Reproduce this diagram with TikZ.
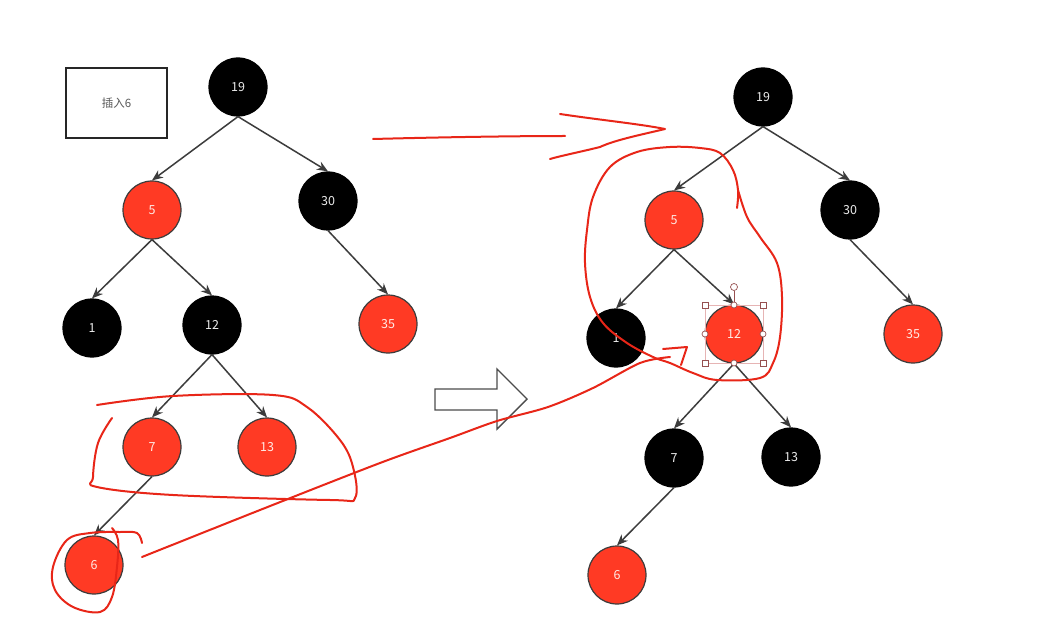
\documentclass[tikz,border=0pt]{standalone}
\usepackage{fontspec}
\setmainfont{Noto Sans CJK SC}
\usetikzlibrary{arrows.meta}
\definecolor{rbred}{RGB}{255,58,36}
\definecolor{edgegray}{RGB}{60,60,60}
\definecolor{penred}{RGB}{232,38,24}
\definecolor{handle}{RGB}{150,80,80}
\definecolor{labelgray}{RGB}{90,90,90}
\tikzset{
  rbnode/.style={circle, minimum size=58pt, inner sep=0pt, draw=edgegray, line width=1.2pt, text=white, font=\fontsize{12.5}{12.5}\selectfont},
  rnode/.style={rbnode, fill=rbred, text={rgb,255:red,255;green,235;blue,230}},
  bnode/.style={rbnode, fill=black, draw=black, text={rgb,255:red,235;green,235;blue,235}},
  edge/.style={draw=edgegray, line width=1.5pt, -{Stealth[length=11pt,width=9pt]}},
  pen/.style={draw=penred, line width=2pt, line cap=round, line join=round},
  hsq/.style={draw=handle, fill=white, line width=0.7pt, minimum size=6pt, inner sep=0pt, rectangle},
  hci/.style={draw=handle, fill=white, line width=0.7pt, minimum size=7pt, inner sep=0pt, circle},
}
\begin{document}
\begin{tikzpicture}[x=1pt,y=-1pt]
\useasboundingbox (0,0) rectangle (1043,644);
\fill[white] (0,0) rectangle (1043,644);

% label box
\node[draw=black!85, line width=1.2pt, minimum width=101pt, minimum height=70pt, inner sep=0pt, text=labelgray, font=\fontsize{11.5}{11.5}\selectfont] (lbl) at (116.5,103) {插入6};

% left tree
\node[bnode] (L19) at (238,87) {19};
\node[rnode] (L5) at (152,210) {5};
\node[bnode] (L30) at (328,201) {30};
\node[bnode] (L1) at (92,328) {1};
\node[bnode] (L12) at (212,325) {12};
\node[rnode] (L35) at (388,324) {35};
\node[rnode] (L7) at (152,447) {7};
\node[rnode] (L13) at (267,447) {13};
\node[rnode] (L6) at (94,565) {6};
\draw[edge] (L19.south) -- (L5.north);
\draw[edge] (L19.south) -- (L30.north);
\draw[edge] (L5.south) -- (L1.north);
\draw[edge] (L5.south) -- (L12.north);
\draw[edge] (L30.south) -- (L35.north);
\draw[edge] (L12.south) -- (L7.north);
\draw[edge] (L12.south) -- (L13.north);
\draw[edge] (L7.south) -- (L6.north);

% right tree
\node[bnode] (R19) at (763,97) {19};
\node[rnode] (R5) at (674,220) {5};
\node[bnode] (R30) at (850,210) {30};
\node[bnode] (R1) at (616,338) {1};
\node[rnode] (R12) at (734,334) {12};
\node[rnode] (R35) at (913,334) {35};
\node[bnode] (R7) at (674,458) {7};
\node[bnode] (R13) at (791,457) {13};
\node[rnode] (R6) at (617,575) {6};
\draw[edge] (R19.south) -- (R5.north);
\draw[edge] (R19.south) -- (R30.north);
\draw[edge] (R5.south) -- (R1.north);
\draw[edge] (R5.south) -- (R12.north);
\draw[edge] (R30.south) -- (R35.north);
\draw[edge] (R12.south) -- (R7.north);
\draw[edge] (R12.south) -- (R13.north);
\draw[edge] (R7.south) -- (R6.north);

% selection handles on R12
\draw[draw={rgb,255:red,230;green,180;blue,180}, line width=0.6pt] (705,305) rectangle (763,363);
\draw[handle, line width=0.7pt] (734,291) -- (734,305);
\node[hci] (hrot) at (734,287) {};
\node[hsq] (h1) at (705,305) {};
\node[hsq] (h2) at (763,305) {};
\node[hsq] (h3) at (705,363) {};
\node[hsq] (h4) at (763,363) {};
\node[hci, minimum size=6pt] (h5) at (734,305) {};
\node[hci, minimum size=6pt] (h6) at (734,363) {};
\node[hci, minimum size=6pt] (h7) at (705,334) {};
\node[hci, minimum size=6pt] (h8) at (763,334) {};

% hollow block arrow
\draw[draw=black!70, line width=1.4pt, fill=white, line join=miter]
  (435,389) -- (497,389) -- (497,369) -- (527,399) -- (497,429) -- (497,410) -- (435,410) -- cycle;

% red pen scribbles
% top arrow
\draw[pen] (373,139) .. controls (450,137) and (520,136) .. (565,136);
\draw[pen] (560,114) .. controls (600,120) and (640,124) .. (665,129)
  .. controls (640,135) and (615,140) .. (600,147) .. controls (580,152) and (560,156) .. (550,159);
% loop around 7 and 13
\draw[pen] plot[smooth, tension=0.6] coordinates {(97,405) (173,396) (273,395) (307,407) (340,440) (353,467) (355,498) (330,500) (173,495) (97,487) (93,477) (98,443) (112,418)};
% loop around 6
\draw[pen] plot[smooth, tension=0.6] coordinates {(142,543) (137,533) (120,532) (90,533) (67,540) (53,567) (55,590) (73,607) (100,612) (112,597) (117,567) (118,540) (112,528)};
% long line from 6 to 12
\draw[pen] plot[smooth, tension=0.5] coordinates {(142,557) (260,510) (380,463) (450,438) (497,421) (548,407) (593,388) (640,363) (670,357)};
\draw[pen] (663,349) -- (687,347) -- (681,365);
% loop around 5 and 12 (right)
\draw[pen] plot[smooth, tension=0.6] coordinates {(737,208) (738,190) (733,170) (720,153) (700,148) (670,147) (637,152) (610,167) (593,197) (587,230) (585,263) (590,297) (603,323) (627,343) (653,357) (670,363) (693,373) (717,380) (760,378) (773,363) (780,337) (782,297) (777,263) (760,237) (747,217) (738,190)};
\end{tikzpicture}
\end{document}
